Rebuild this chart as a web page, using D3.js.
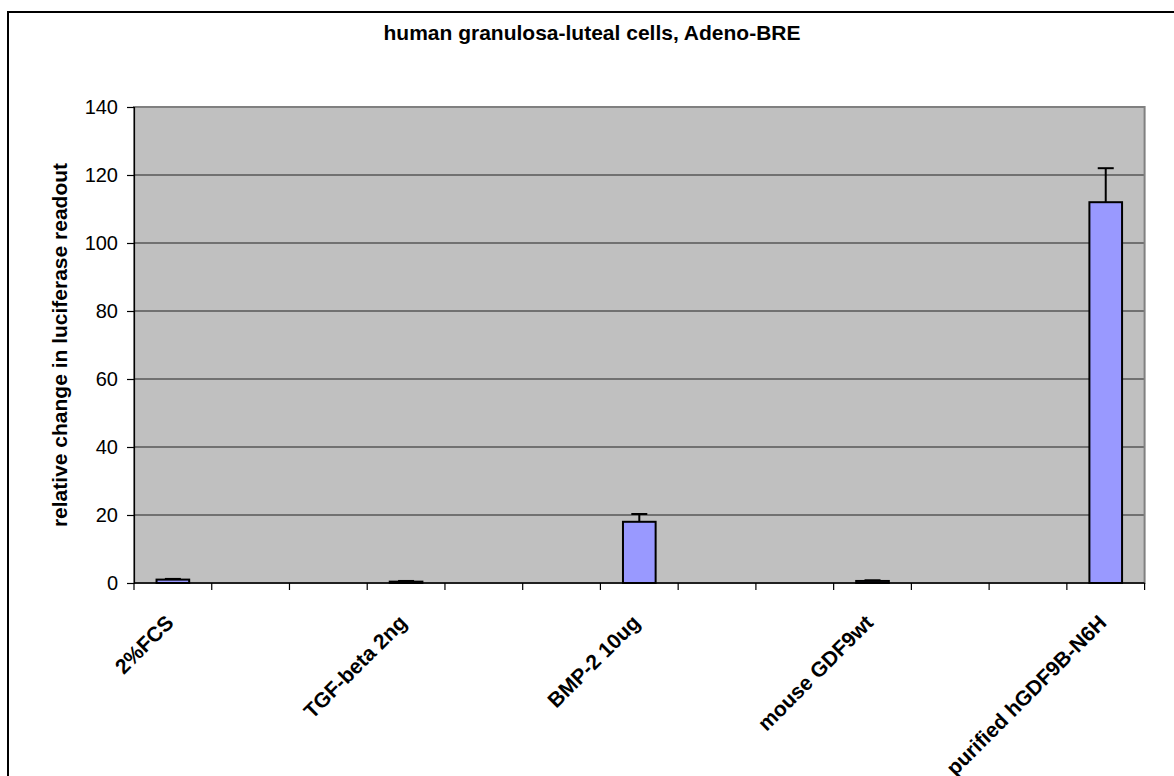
<!DOCTYPE html>
<html>
<head>
<meta charset="utf-8">
<script src="https://cdn.jsdelivr.net/npm/d3@7"></script>
<style>
  html, body { margin: 0; padding: 0; background: #fff; }
  svg { display: block; }
  text { font-family: Arial, "Liberation Sans", sans-serif; }
</style>
</head>
<body>
<svg id="chart" width="1174" height="776"></svg>
<script>
// Treatments (blank slots keep the spacing between groups)
const categories = ["2%FCS", "", "", "TGF-beta 2ng", "", "", "BMP-2 10ug", "", "", "mouse GDF9wt", "", "", "purified hGDF9B-N6H"];
// Relative change in luciferase readout
const values = [1.0, null, null, 0.4, null, null, 18, null, null, 0.6, null, null, 112];
// Upper error (standard deviation)
const errors = [0.2, null, null, 0.2, null, null, 2.3, null, null, 0.2, null, null, 10];
const yTicks = [0, 20, 40, 60, 80, 100, 120, 140];

const title = "human granulosa-luteal cells, Adeno-BRE";
const yTitle = "relative change in luciferase readout";

const W = 1174, H = 776;
const plot = { left: 134, right: 1144.6, top: 107, bottom: 583 };

const svg = d3.select("#chart");

// outer chart frame (runs past the right and bottom edges)
svg.append("rect")
  .attr("x", 8).attr("y", 12)
  .attr("width", W + 20).attr("height", H + 20)
  .attr("fill", "#fff").attr("stroke", "#000").attr("stroke-width", 2);

const idx = d3.range(categories.length);
const xCat = d3.scaleBand().domain(idx).range([plot.left, plot.right]).padding(0);
const xBar = d3.scaleBand().domain(idx).range([plot.left, plot.right])
  .paddingInner(0.58).paddingOuter(0.29);
const y = d3.scaleLinear().domain([0, 140]).range([plot.bottom, plot.top]);

// plot area
svg.append("rect")
  .attr("x", plot.left).attr("y", plot.top)
  .attr("width", plot.right - plot.left).attr("height", plot.bottom - plot.top)
  .attr("fill", "#C0C0C0");

// horizontal gridlines
svg.append("g").selectAll("line")
  .data(yTicks.filter(d => d > 0 && d < 140))
  .join("line")
  .attr("x1", plot.left).attr("x2", plot.right)
  .attr("y1", d => y(d)).attr("y2", d => y(d))
  .attr("stroke", "#222").attr("stroke-width", 1);

// plot border (gray)
svg.append("rect")
  .attr("x", plot.left).attr("y", plot.top)
  .attr("width", plot.right - plot.left).attr("height", plot.bottom - plot.top)
  .attr("fill", "none").attr("stroke", "#808080").attr("stroke-width", 2);

// y axis
const yAxis = d3.axisLeft(y).tickValues(yTicks).tickSize(7).tickPadding(9).tickFormat(d3.format("d"));
const gy = svg.append("g").attr("transform", `translate(${plot.left},0)`).call(yAxis);
gy.select(".domain").attr("stroke", "#000").attr("stroke-width", 1.2);
gy.selectAll(".tick line").attr("stroke", "#000").attr("stroke-width", 1.2);
gy.selectAll(".tick text")
  .attr("font-size", 20).attr("fill", "#000")
  .attr("font-family", "Arial, 'Liberation Sans', sans-serif");

// x axis: ticks at category boundaries
const boundaries = idx.map(i => xCat(i)).concat([plot.right]);
const gx = svg.append("g");
gx.append("line")
  .attr("x1", plot.left).attr("x2", plot.right)
  .attr("y1", plot.bottom).attr("y2", plot.bottom)
  .attr("stroke", "#000").attr("stroke-width", 1.5);
gx.selectAll("line.tk").data(boundaries).join("line").attr("class", "tk")
  .attr("x1", d => d).attr("x2", d => d)
  .attr("y1", plot.bottom).attr("y2", plot.bottom + 7)
  .attr("stroke", "#000").attr("stroke-width", 1.2);

// category labels, rotated
gx.selectAll("text").data(idx.filter(i => categories[i] !== "")).join("text")
  .attr("transform", i => `translate(${xCat(i) + xCat.bandwidth() / 2 + 2},${plot.bottom + 41}) rotate(-45)`)
  .attr("text-anchor", "end")
  .attr("font-size", 21).attr("font-weight", "bold").attr("fill", "#000")
  .text(i => categories[i]);

// bars
const barData = idx.filter(i => values[i] != null);
svg.append("g").selectAll("rect").data(barData).join("rect")
  .attr("x", i => xBar(i))
  .attr("width", xBar.bandwidth())
  .attr("y", i => y(values[i]))
  .attr("height", i => y(0) - y(values[i]))
  .attr("fill", "#9999FF").attr("stroke", "#000").attr("stroke-width", 2);

// error bars (upper)
const eg = svg.append("g").attr("stroke", "#000").attr("stroke-width", 2);
barData.forEach(i => {
  const cx = xBar(i) + xBar.bandwidth() / 2;
  const top = y(values[i] + errors[i]);
  eg.append("line").attr("x1", cx).attr("x2", cx).attr("y1", y(values[i])).attr("y2", top);
  eg.append("line").attr("x1", cx - 8).attr("x2", cx + 8).attr("y1", top).attr("y2", top);
});

// chart title
svg.append("text")
  .attr("x", 592).attr("y", 40)
  .attr("text-anchor", "middle")
  .attr("font-size", 21).attr("font-weight", "bold")
  .text(title);

// y axis title
svg.append("text")
  .attr("transform", `translate(67,${(plot.top + plot.bottom) / 2}) rotate(-90)`)
  .attr("text-anchor", "middle")
  .attr("font-size", 21).attr("font-weight", "bold")
  .text(yTitle);
</script>
</body>
</html>
